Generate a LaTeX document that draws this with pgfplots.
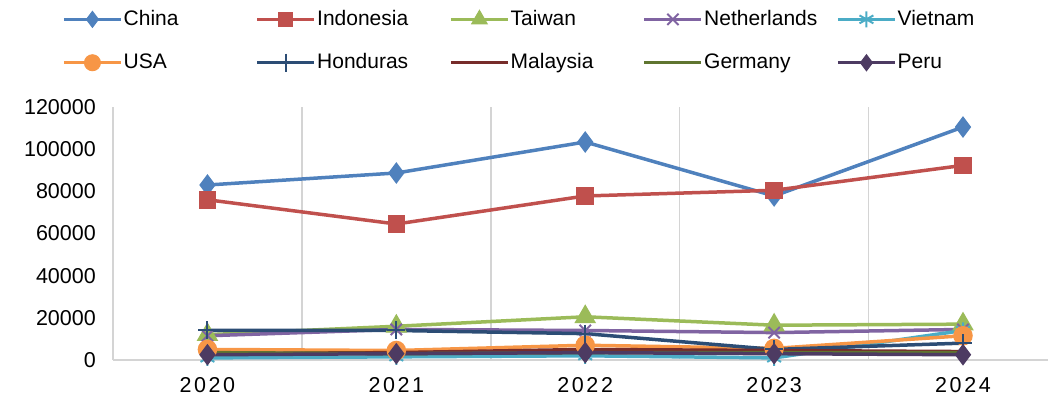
\documentclass[border=0pt]{standalone}
\usepackage{pgfplots}
\pgfplotsset{compat=1.18}
\usepackage{fontspec}
\setmainfont{Liberation Sans}
\newfontfamily\spaced[LetterSpace=12]{Liberation Sans}
\definecolor{cChina}{HTML}{4F81BD}
\definecolor{cIndo}{HTML}{C0504D}
\definecolor{cTaiwan}{HTML}{9BBB59}
\definecolor{cNeth}{HTML}{8064A2}
\definecolor{cViet}{HTML}{4BACC6}
\definecolor{cUSA}{HTML}{F79646}
\definecolor{cHond}{HTML}{2C4D75}
\definecolor{cMal}{HTML}{772C2A}
\definecolor{cGer}{HTML}{5F7530}
\definecolor{cPeru}{HTML}{4D3B62}
\newcommand{\lb}[1]{\makebox[131pt][l]{#1}}
\begin{document}
\fontsize{21}{25}\selectfont
\begin{tikzpicture}
\path[use as bounding box] (-113pt,-38pt) rectangle (935pt,360pt);
\begin{axis}[
  at={(0pt,0pt)}, anchor=south west,
  scale only axis, width=935pt, height=253pt,
  xmin=-0.5, xmax=4.45, ymin=0, ymax=120000,
  xtick={0,1,2,3,4},
  xticklabels={{\spaced 2020},{\spaced 2021},{\spaced 2022},{\spaced 2023},{\spaced 2024}},
  minor xtick={-0.5,0.5,1.5,2.5,3.5},
  xminorgrids, minor grid style={draw=black!17, line width=1.6pt},
  ytick={0,20000,40000,60000,80000,100000,120000},
  scaled y ticks=false,
  yticklabel style={/pgf/number format/fixed,/pgf/number format/1000 sep={}, /pgf/number format/assume math mode=true},
  major tick length=0pt, minor tick length=0pt,
  axis x line=bottom, axis y line=left,
  x axis line style={-, draw=black!17, line width=1.6pt},
  y axis line style={draw=none},
  xticklabel style={yshift=-10pt},
  yticklabel style={xshift=-10pt},
  tick label style={font=\fontsize{21.5}{25}\selectfont},
  every axis plot/.append style={line width=3.5pt, mark options={solid}},
  legend columns=5,
  legend style={at={(rel axis cs:0,1)}, anchor=north west, xshift=-54pt, yshift=100pt,
    draw=none, fill=none, font=\fontsize{21}{25}\selectfont, row sep=23pt,
    nodes={inner sep=1pt}},
  legend image code/.code={
    \draw[#1,mark=none] (0pt,0pt) -- (57pt,0pt);
    \draw[#1,line width=1pt] plot coordinates {(28.5pt,0pt)};
  },
]
\addplot[color=cChina, mark=diamond*, mark size=8pt] coordinates {(0,83000) (1,88700) (2,103400) (3,77800) (4,110500)};
\addlegendentry{\lb{China}}
\addplot[color=cIndo, mark=square*, mark size=7pt] coordinates {(0,76000) (1,64500) (2,77800) (3,80500) (4,92300)};
\addlegendentry{\lb{Indonesia}}
\addplot[color=cTaiwan, mark=triangle*, mark size=9pt] coordinates {(0,12000) (1,16000) (2,20500) (3,16500) (4,17000)};
\addlegendentry{\lb{Taiwan}}
\addplot[color=cNeth, mark=x, mark size=8pt, mark options={line width=2pt}] coordinates {(0,11500) (1,14500) (2,14000) (3,13000) (4,14500)};
\addlegendentry{\lb{Netherlands}}
\addplot[color=cViet, mark=asterisk, mark size=8pt, mark options={line width=2pt}] coordinates {(0,1000) (1,1500) (2,2000) (3,1000) (4,14000)};
\addlegendentry{\lb{Vietnam}}
\addplot[color=cUSA, mark=*, mark size=8pt] coordinates {(0,5000) (1,4500) (2,7000) (3,5500) (4,11500)};
\addlegendentry{\lb{USA}}
\addplot[color=cHond, mark=+, mark size=9pt, mark options={line width=2pt}] coordinates {(0,14000) (1,14000) (2,12500) (3,5000) (4,8000)};
\addlegendentry{\lb{Honduras}}
\addplot[color=cMal, mark=none] coordinates {(0,3000) (1,3500) (2,5000) (3,4500) (4,4000)};
\addlegendentry{\lb{Malaysia}}
\addplot[color=cGer, mark=none] coordinates {(0,3500) (1,3000) (2,3500) (3,3500) (4,3500)};
\addlegendentry{\lb{Germany}}
\addplot[color=cPeru, mark=diamond*, mark size=8pt] coordinates {(0,2500) (1,3000) (2,3500) (3,3000) (4,2500)};
\addlegendentry{\lb{Peru}}
\end{axis}
\end{tikzpicture}
\end{document}
